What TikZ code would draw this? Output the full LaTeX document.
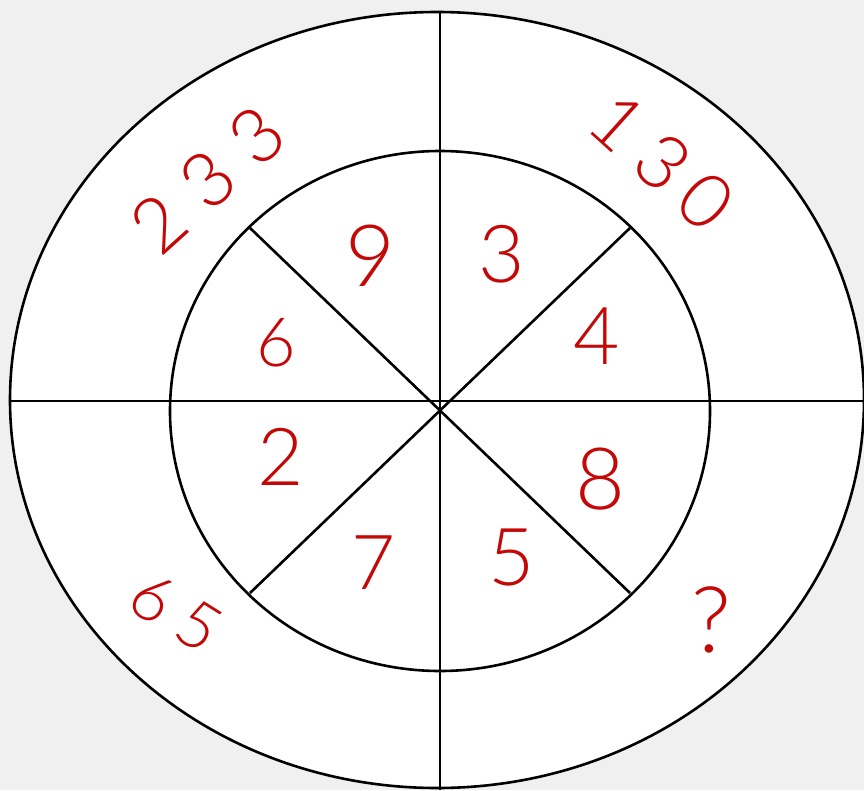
\documentclass[tikz,border=0pt]{standalone}
\usepackage{fontspec}
\setmainfont{Lato}[UprightFont=* Light]
\newfontfamily\numfont{Lato}[UprightFont=* Light]
\definecolor{bgray}{RGB}{240,240,240}
\definecolor{numred}{RGB}{196,8,8}
\newcommand{\numsize}[1]{\numfont\fontsize{#1}{#1}\selectfont}
\tikzset{
  ring/.style={draw=black, line width=2.6pt, fill=white},
  spoke/.style={draw=black, line width=2.6pt},
  num/.style={text=numred, inner sep=0pt, font=\numsize{80}},
  bignum/.style={text=numred, inner sep=0pt, font=\numsize{76}}
}
\begin{document}
\begin{tikzpicture}[x=1pt,y=-1pt]
\fill[bgray] (0,0) rectangle (864,790);
\useasboundingbox (0,0) rectangle (864,790);
% rings
\path[ring] (437,400) ellipse [x radius=427pt, y radius=388pt];
\path[ring] (440,411) ellipse [x radius=270pt, y radius=260pt];
% spoke end points
\coordinate (top) at (440,12);
\coordinate (bot) at (440,790);
\coordinate (lft) at (10,401);
\coordinate (rgt) at (864,401);
\coordinate (nw) at (250,228);
\coordinate (ne) at (630,228);
\coordinate (sw) at (250,593);
\coordinate (se) at (630,593);
\draw[spoke] (top) -- (bot);
\draw[spoke] (lft) -- (rgt);
\draw[spoke] (nw) -- (se);
\draw[spoke] (ne) -- (sw);
% inner numbers
\node[num,font=\numsize{86}] (n9) at (370,256) {9};
\node[num] (n3) at (502,254) {3};
\node[num,font=\numsize{68}] (n6) at (276,343) {6};
\node[num] (n4) at (597,336) {4};
\node[num] (n2) at (281,457) {2};
\node[num,font=\numsize{86}] (n8) at (600,479) {8};
\node[num,font=\numsize{76}] (n7) at (374,563) {7};
\node[num] (n5) at (512,558) {5};
% outer numbers
\node[bignum, rotate=42] (o233) at (208,180) {2\kern22pt3\kern22pt3};
\node[bignum, rotate=-42] (o130) at (662,162) {1\kern16pt3\kern14pt0};
\node[bignum, rotate=-32, font=\numsize{66}] (o65) at (176,612) {6\kern16pt5};
\node[bignum, font=\numsize{92}] (oq) at (711,620) {?};
\end{tikzpicture}
\end{document}
